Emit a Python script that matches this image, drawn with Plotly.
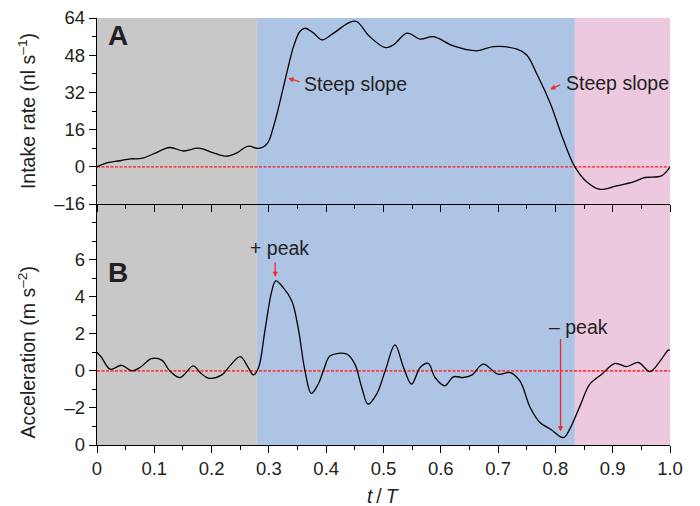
import plotly.graph_objects as go

# ---- data ----
t_intake = [0.0, 0.017, 0.040, 0.058, 0.078, 0.098, 0.127, 0.151, 0.177, 0.203, 0.226, 0.244,
            0.264, 0.282, 0.297, 0.308, 0.320, 0.331, 0.343, 0.354, 0.363, 0.378, 0.393, 0.413,
            0.440, 0.453, 0.476, 0.503, 0.517, 0.541, 0.564, 0.587, 0.622, 0.663, 0.692, 0.733,
            0.750, 0.767, 0.791, 0.814, 0.834, 0.855, 0.878, 0.907, 0.936, 0.956, 0.985, 1.0]
intake = [0.0, 1.7, 2.6, 3.4, 3.6, 5.5, 8.3, 6.8, 8.0, 6.0, 4.6, 6.0,
          8.9, 7.9, 10.0, 17.2, 28.7, 40.2, 51.7, 58.2, 59.6, 57.5, 54.6, 57.5,
          62.0, 62.5, 56.0, 51.3, 52.4, 57.5, 54.9, 56.0, 52.0, 49.9, 51.7, 50.6,
          48.1, 40.2, 27.3, 11.5, 0.0, -6.5, -9.7, -8.2, -6.5, -4.6, -3.9, 0.0]

t_acc = [0.0, 0.008, 0.023, 0.043, 0.061, 0.075, 0.095, 0.113, 0.127, 0.145, 0.168, 0.180,
         0.194, 0.218, 0.232, 0.250, 0.264, 0.273, 0.282, 0.293, 0.305, 0.312, 0.325, 0.340,
         0.351, 0.363, 0.374, 0.386, 0.395, 0.407, 0.436, 0.450, 0.462, 0.473, 0.488, 0.503,
         0.520, 0.535, 0.549, 0.564, 0.578, 0.590, 0.607, 0.622, 0.639, 0.654, 0.674, 0.700,
         0.721, 0.738, 0.756, 0.773, 0.791, 0.814, 0.825, 0.843, 0.860, 0.881, 0.904, 0.924,
         0.945, 0.965, 0.983, 0.997, 1.0]
acc = [0.99, 0.72, 0.09, 0.30, 0.0, 0.18, 0.66, 0.58, 0.0, -0.36, 0.27, -0.09,
       -0.39, -0.22, 0.27, 0.77, 0.18, -0.22, 0.18, 2.16, 4.30, 4.85, 4.49, 3.77,
       2.33, 0.0, -1.22, -0.72, 0.0, 0.81, 0.90, 0.36, -0.90, -1.80, -1.26, 0.0,
       1.40, 0.18, -0.72, 0.18, 0.40, -0.36, -0.81, -0.32, -0.36, -0.23, 0.36, -0.18,
       -0.09, -0.54, -1.98, -2.79, -3.14, -3.60, -3.14, -1.89, -0.72, -0.18, 0.40, 0.23,
       0.45, -0.04, 0.54, 1.12, 1.12]

phase_edges = [0.0, 0.279, 0.834, 1.0]
phase_colors = ["#c8c8c8", "#aec4e5", "#edc9df"]

x_ticks = [0, 0.1, 0.2, 0.3, 0.4, 0.5, 0.6, 0.7, 0.8, 0.9, 1.0]
x_ticktext = ["0", "0.1", "0.2", "0.3", "0.4", "0.5", "0.6", "0.7", "0.8", "0.9", "1.0"]
y1_ticks = [-16, 0, 16, 32, 48, 64]
y1_ticktext = ["\u201316", "0", "16", "32", "48", "64"]
y2_ticks = [-4, -2, 0, 2, 4, 6]
y2_ticktext = ["0", "\u20132", "0", "2", "4", "6"]

FONT = "Liberation Sans, Arial, sans-serif"
TXT = "#231f20"
LBL = 19.5

fig = go.Figure()
fig.add_trace(go.Scatter(x=t_intake, y=intake, mode="lines",
                         line=dict(color="black", width=1.3, shape="spline", smoothing=1.0),
                         xaxis="x", yaxis="y", showlegend=False, hoverinfo="skip"))
fig.add_trace(go.Scatter(x=t_acc, y=acc, mode="lines",
                         line=dict(color="black", width=1.3, shape="spline", smoothing=1.0),
                         xaxis="x2", yaxis="y2", showlegend=False, hoverinfo="skip"))

shapes = []
for i, c in enumerate(phase_colors):
    shapes.append(dict(type="rect", xref="x2", yref="paper", x0=phase_edges[i], x1=phase_edges[i + 1],
                       y0=0, y1=1, fillcolor=c, line=dict(width=0), layer="below"))
shapes.append(dict(type="line", xref="x", yref="y", x0=0, x1=1, y0=0, y1=0,
                   line=dict(color="#ff1a1a", width=1.2, dash="3px,1.5px"), layer="below"))
shapes.append(dict(type="line", xref="x2", yref="y2", x0=0, x1=1, y0=0, y1=0,
                   line=dict(color="#ff3a3a", width=1.9, dash="3px,1.5px"), layer="below"))

bottom_frac = 241 / 427.0
axis_common = dict(showgrid=False, zeroline=False, showline=True, linecolor="black", linewidth=1.3,
                   ticks="outside", tickcolor="black", tickwidth=1.3, automargin=False,
                   tickfont=dict(family=FONT, size=18.5, color=TXT))

fig.update_layout(
    width=700, height=506,
    margin=dict(l=97, r=30, t=18, b=61, autoexpand=False),
    paper_bgcolor="white", plot_bgcolor="rgba(0,0,0,0)",
    font=dict(family=FONT, size=17, color=TXT),
    shapes=shapes,
    xaxis=dict(axis_common, domain=[0, 1], anchor="y", range=[0, 1], tickvals=x_ticks,
               showticklabels=False, ticklen=7,
               minor=dict(ticks="outside", ticklen=4, dtick=0.05, tickcolor="black", tickwidth=1.3)),
    yaxis=dict(axis_common, domain=[bottom_frac, 1], anchor="x", range=[-16, 64],
               tickvals=y1_ticks, ticktext=y1_ticktext, ticklen=7,
               minor=dict(ticks="outside", ticklen=4, dtick=8, tickcolor="black", tickwidth=1.3)),
    xaxis2=dict(axis_common, domain=[0, 1], anchor="y2", range=[0, 1], tickvals=x_ticks,
                ticktext=x_ticktext, ticklen=7,
                minor=dict(ticks="outside", ticklen=4, dtick=0.05, tickcolor="black", tickwidth=1.3)),
    yaxis2=dict(axis_common, domain=[0, bottom_frac], anchor="x2", range=[-4, 9],
                tickvals=y2_ticks, ticktext=y2_ticktext, ticklen=7,
                minor=dict(ticks="outside", ticklen=4, dtick=1, tickcolor="black", tickwidth=1.3)),
)

ann = []
# axis titles
ann.append(dict(text="Intake rate (nl s<sup>\u20131</sup>)", xref="paper", yref="y", x=-0.122, y=24,
                textangle=-90, showarrow=False, xanchor="center", yanchor="middle",
                font=dict(family=FONT, size=LBL, color=TXT)))
ann.append(dict(text="Acceleration (m s<sup>\u20132</sup>)", xref="paper", yref="y2", x=-0.122, y=1.0,
                textangle=-90, showarrow=False, xanchor="center", yanchor="middle",
                font=dict(family=FONT, size=LBL, color=TXT)))
ann.append(dict(text="<i>t</i>\u2009/\u2009<i>T</i>", xref="paper", yref="paper", x=0.5, y=-0.12,
                showarrow=False, xanchor="center", yanchor="middle",
                font=dict(family=FONT, size=LBL, color=TXT)))
# panel letters
ann.append(dict(text="<b>A</b>", xref="x", yref="y", x=0.036, y=56.5, showarrow=False,
                font=dict(family=FONT, size=28, color=TXT)))
ann.append(dict(text="<b>B</b>", xref="x2", yref="y2", x=0.037, y=5.3, showarrow=False,
                font=dict(family=FONT, size=28, color=TXT)))
# Steep slope labels
ann.append(dict(text="Steep slope", xref="x", yref="y", x=0.357, y=35.6, showarrow=False,
                xanchor="left", font=dict(family=FONT, size=LBL, color=TXT)))
ann.append(dict(text="", xref="x", yref="y", x=0.334, y=38.1, axref="x", ayref="y", ax=0.356, ay=36.4,
                showarrow=True, arrowhead=2, arrowsize=0.8, arrowwidth=1.3, arrowcolor="#ee2a2a"))
ann.append(dict(text="Steep slope", xref="x", yref="y", x=0.815, y=36.1, showarrow=False,
                xanchor="left", font=dict(family=FONT, size=LBL, color=TXT)))
ann.append(dict(text="", xref="x", yref="y", x=0.791, y=33.4, axref="x", ayref="y", ax=0.811, ay=35.5,
                showarrow=True, arrowhead=2, arrowsize=0.8, arrowwidth=1.3, arrowcolor="#ee2a2a"))
# peaks
ann.append(dict(text="+ peak", xref="x2", yref="y2", x=0.319, y=6.65, showarrow=False,
                font=dict(family=FONT, size=LBL, color=TXT)))
ann.append(dict(text="", xref="x2", yref="y2", x=0.311, y=5.07, axref="x2", ayref="y2", ax=0.311, ay=5.93,
                showarrow=True, arrowhead=2, arrowsize=0.8, arrowwidth=1.3, arrowcolor="#ee2a2a"))
ann.append(dict(text="\u2013 peak", xref="x2", yref="y2", x=0.841, y=2.37, showarrow=False,
                font=dict(family=FONT, size=LBL, color=TXT)))
ann.append(dict(text="", xref="x2", yref="y2", x=0.809, y=-3.27, axref="x2", ayref="y2", ax=0.809, ay=1.8,
                showarrow=True, arrowhead=2, arrowsize=0.8, arrowwidth=1.3, arrowcolor="#ee2a2a"))
fig.update_layout(annotations=ann)

fig.write_html("out.html", config={"displayModeBar": False},
               post_script="document.body.style.margin='0';document.body.style.overflow='hidden';")
